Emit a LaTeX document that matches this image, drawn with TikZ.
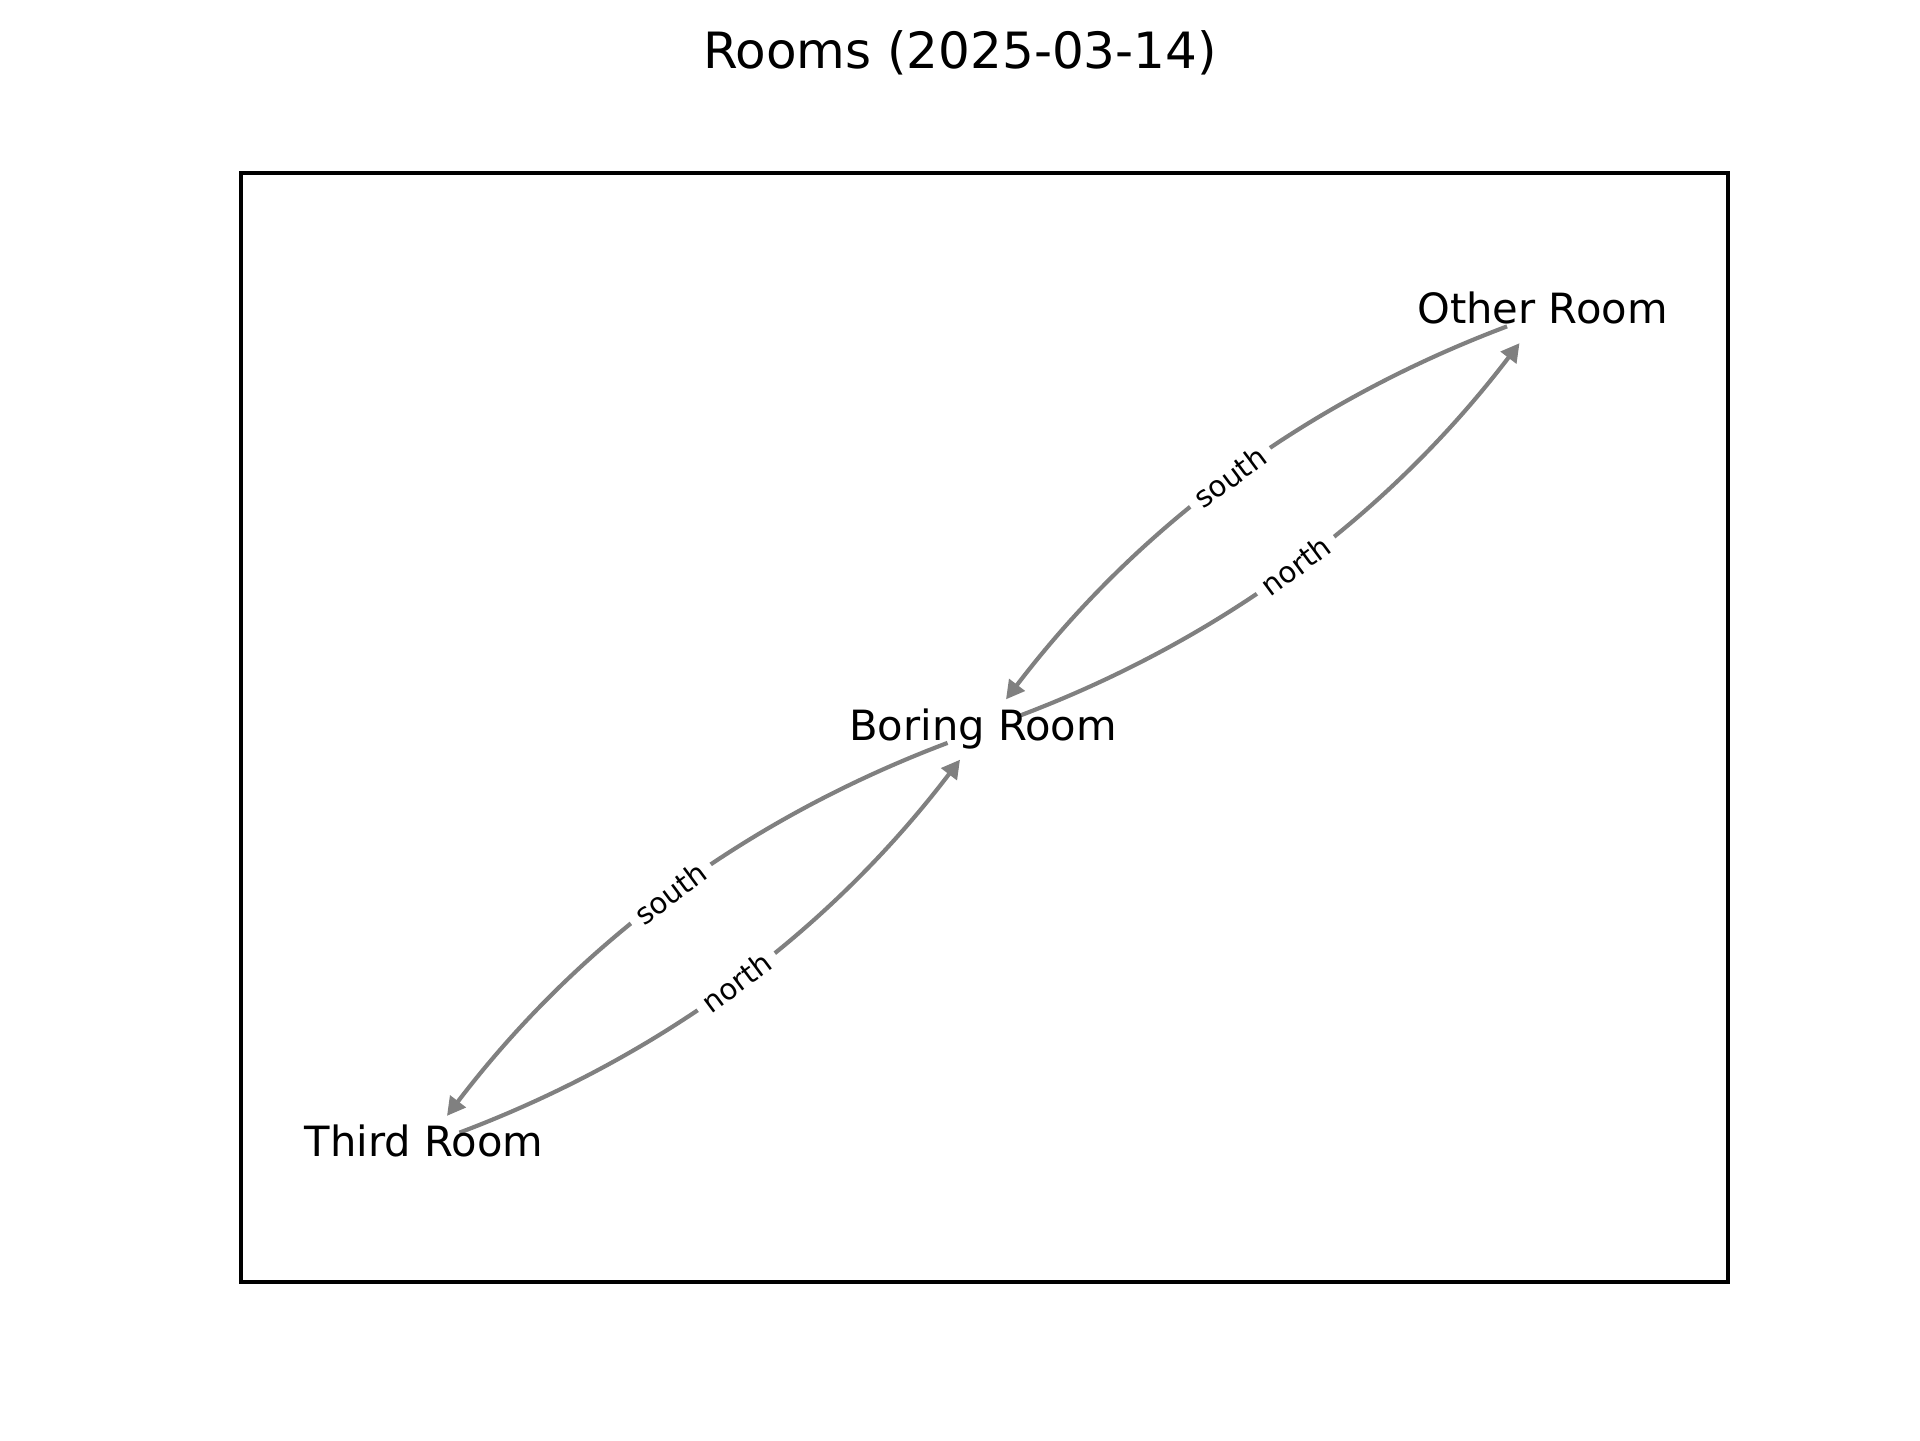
\documentclass[tikz,border=0pt]{standalone}
\usepackage{fontspec}
\setmainfont{DejaVu Sans}
\usetikzlibrary{arrows.meta}
\definecolor{edgegray}{RGB}{128,128,128}
\begin{document}
\begin{tikzpicture}[x=0.24pt,y=-0.24pt,
  room/.style={circle,inner sep=0pt,outer sep=0pt,minimum size=18.2pt},
  roomlabel/.style={font=\fontsize{10}{12}\selectfont,inner sep=0pt,text height=0.76em,text depth=0.24em},
  link/.style={draw=edgegray,line width=1pt,-{Triangle[length=4.4pt,width=4.6pt]},bend right=16,looseness=0.89},
  doorlabel/.style={font=\fontsize{7}{8.4}\selectfont,fill=white,rounded corners=2pt,inner sep=2.1pt,sloped,pos=0.5},
  frame/.style={draw=black,line width=0.8pt}
]
\useasboundingbox (0,0) rectangle (1920,1440);
\node[anchor=base,font=\fontsize{12}{14.4}\selectfont] (title) at (960,68) {Rooms (2025-03-14)};
\draw[frame] (241,173) rectangle (1728,1282);

\node[room] (other) at (1542.5,313) {};
\node[room] (boring) at (983,729.5) {};
\node[room] (third) at (424,1146) {};

\draw[link] (boring) to node[doorlabel] {north} (other);
\draw[link] (other) to node[doorlabel] {south} (boring);
\draw[link] (third) to node[doorlabel] {north} (boring);
\draw[link] (boring) to node[doorlabel] {south} (third);

\node[roomlabel] (otherlabel) at (other.center) {Other Room};
\node[roomlabel] (boringlabel) at (boring.center) {Boring Room};
\node[roomlabel] (thirdlabel) at (third.center) {Third Room};
\end{tikzpicture}
\end{document}
